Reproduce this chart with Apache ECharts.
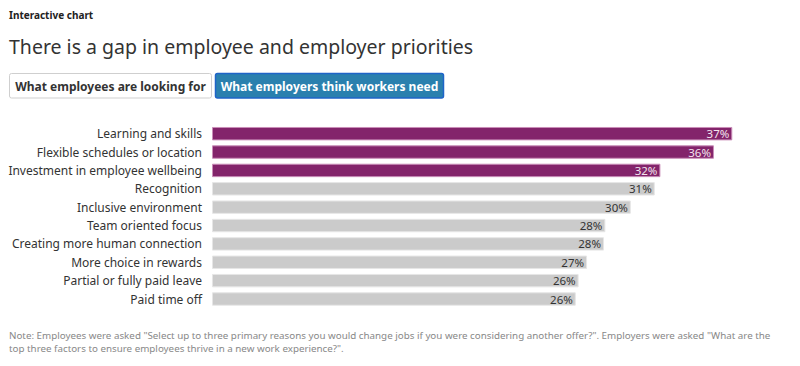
<!DOCTYPE html>
<html>
<head>
<meta charset="utf-8">
<script src="https://cdn.jsdelivr.net/npm/echarts@6/dist/echarts.min.js"></script>
<style>
  html, body { margin: 0; padding: 0; background: #fff; }
  #chart { width: 800px; height: 366px; }
</style>
</head>
<body>
<div id="chart"></div>
<script>
const categories = [
  "Learning and skills",
  "Flexible schedules or location",
  "Investment in employee wellbeing",
  "Recognition",
  "Inclusive environment",
  "Team oriented focus",
  "Creating more human connection",
  "More choice in rewards",
  "Partial or fully paid leave",
  "Paid time off"
];
const values = [36.9, 35.6, 31.8, 31.4, 29.7, 27.9, 27.8, 26.6, 26.0, 25.8];
const highlighted = [true, true, true, false, false, false, false, false, false, false];
const buttonLabels = ["What employees are looking for", "What employers think workers need"];
const kicker = "Interactive chart";
const titleText = "There is a gap in employee and employer priorities";
const noteLines = [
  "Note: Employees were asked \"Select up to three primary reasons you would change jobs if you were considering another offer?\". Employers were asked \"What are the",
  "top three factors to ensure employees thrive in a new work experience?\"."
];

const PURPLE = "#83246b";
const GRAY = "#cbcbcb";
const FONT = "'Noto Sans', 'DejaVu Sans', sans-serif";

const chart = echarts.init(document.getElementById('chart'), null, { renderer: 'svg' });

const seriesData = values.map((v, i) => ({
  value: v,
  itemStyle: {
    color: highlighted[i] ? PURPLE : GRAY,
    borderColor: highlighted[i] ? "#c98db8" : "#e6e6e6",
    borderWidth: 1
  },
  label: { color: highlighted[i] ? "#f3e4ee" : "#333333" }
}));

chart.setOption({
  animation: false,
  textStyle: { fontFamily: FONT },
  grid: { left: 212, top: 124.5, width: 564, height: 183.7, containLabel: false },
  xAxis: {
    type: 'value', min: 0, max: 40, show: false,
    splitLine: { show: false }
  },
  yAxis: {
    type: 'category',
    data: categories,
    inverse: true,
    axisLine: { show: false },
    axisTick: { show: false },
    axisLabel: { margin: 10, fontSize: 12, color: '#333333', fontFamily: FONT }
  },
  series: [{
    type: 'bar',
    data: seriesData,
    barCategoryGap: '27%',
    label: {
      show: true,
      position: 'insideRight',
      distance: 3,
      fontSize: 11.5,
      fontFamily: FONT,
      formatter: p => Math.round(p.value) + '%'
    }
  }],
  graphic: [
    { type: 'text', left: 9, top: 10, style: { text: kicker, font: "bold 10px " + FONT, fill: '#222' } },
    { type: 'text', left: 9, top: 36, style: { text: titleText, font: "19.5px " + FONT, fill: '#333' } },
    { type: 'rect', shape: { x: 9.5, y: 73.5, width: 202, height: 24.5, r: 2 },
      style: { fill: '#fff', stroke: '#cfcfcf', lineWidth: 1 } },
    { type: 'text', x: 110.5, y: 86, style: { text: buttonLabels[0], font: "bold 12px " + FONT, fill: '#333', align: 'center', verticalAlign: 'middle' } },
    { type: 'rect', shape: { x: 215.5, y: 73.5, width: 228, height: 24.5, r: 2 },
      style: { fill: '#2a80ae', stroke: '#1f64c8', lineWidth: 1.5 } },
    { type: 'text', x: 329.5, y: 86, style: { text: buttonLabels[1], font: "bold 12px " + FONT, fill: '#fff', align: 'center', verticalAlign: 'middle' } },
    { type: 'text', left: 9, top: 330, style: { text: noteLines[0], font: "9.8px " + FONT, fill: '#888' } },
    { type: 'text', left: 9, top: 343, style: { text: noteLines[1], font: "9.8px " + FONT, fill: '#888' } }
  ]
});
</script>
</body>
</html>
